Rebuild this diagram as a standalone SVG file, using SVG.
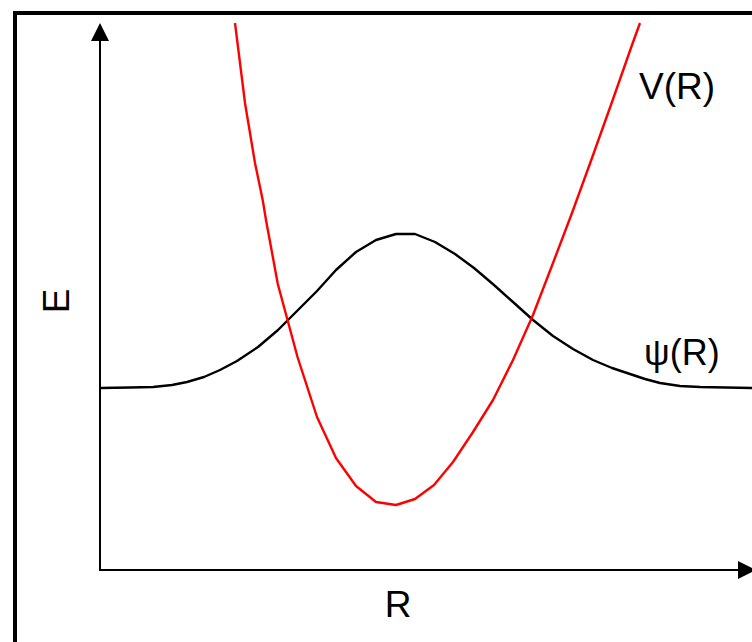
<svg xmlns="http://www.w3.org/2000/svg" width="752" height="642" viewBox="0 0 752 642">
<style>
.lbl{font-family:"Liberation Sans",Arial,sans-serif;fill:#000}
.axis{stroke:#000;stroke-width:2;fill:none}
.curve{fill:none;stroke-width:2.4;stroke-linejoin:round}
</style>
<defs>
<marker id="arr" viewBox="0 0 18 18" markerWidth="18" markerHeight="18" markerUnits="userSpaceOnUse" refX="0" refY="9" orient="auto">
<path d="M0,0 L18,9 L0,18 z" fill="#000"/>
</marker>
</defs>
<rect x="0" y="0" width="752" height="642" fill="#fff"/>
<rect id="frame" x="15" y="13" width="780" height="680" fill="none" stroke="#000" stroke-width="4"/>
<g id="axes">
<line class="axis" x1="100" y1="571" x2="100" y2="41" marker-end="url(#arr)"/>
<line class="axis" x1="99" y1="570" x2="738" y2="570" marker-end="url(#arr)"/>
</g>
<g id="curves">
<polyline id="psi" class="curve" stroke="#000" points="100,388 130,387.5 153,387 172,385 187,382 204,377 220,370 237,361 258,347 278,330 298,310 317,291 336,270 356,252 376,240 396,234 415,234 435,242 455,254 474,268 494,285 513,302 533,320 553,336 573,349 593,360 612,368 630,374 645,379 660,383 680,386 700,387 752,388"/>
<polyline id="V" class="curve" stroke="#f00" points="235,23 245,103 255,163 262.7,200 266,220 277.8,284 287,318 297.5,357 317,417 336,458 356,486 376,502 396,505 415,499 434,485 453,462 473,432 493,400 513,360 533,315 553,263 572,213 592,158 612,102 632,45 640,23"/>
</g>
<g id="labels">
<text class="lbl" x="639" y="99" font-size="37">V(R)</text>
<text class="lbl" x="644" y="365" font-size="36">ψ(R)</text>
<text class="lbl" x="398" y="617" font-size="37" text-anchor="middle">R</text>
<text class="lbl" x="69" y="301" font-size="37" text-anchor="middle" transform="rotate(-90 69 301)">E</text>
</g>
</svg>
